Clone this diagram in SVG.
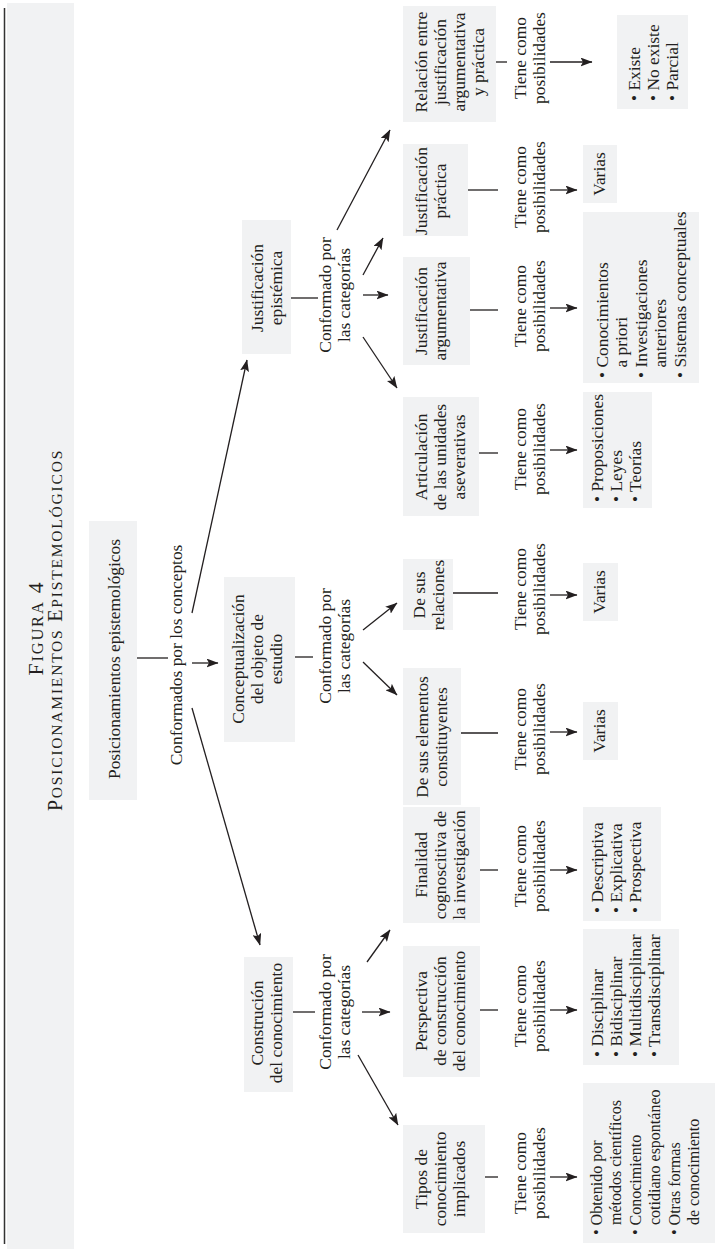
<svg xmlns="http://www.w3.org/2000/svg" width="728" height="1252" viewBox="0 0 728 1252">
<defs>
<style>
.box{fill:#f1f2f3}
.t{font-family:"Liberation Serif","Times New Roman",serif;font-size:17.4px;fill:#231f20}
.s{font-size:16px}
.m{text-anchor:middle}
.ln{stroke:#231f20;stroke-width:1.3;fill:none}
.ar{stroke:#231f20;stroke-width:1.3;fill:none;marker-end:url(#ah)}
.ttl{font-family:"Liberation Serif","Times New Roman",serif;fill:#231f20;text-anchor:middle;letter-spacing:1.8px}
</style>
<marker id="ah" viewBox="0 0 12 9" refX="11.5" refY="4.5" markerWidth="12" markerHeight="9" markerUnits="userSpaceOnUse" orient="auto"><path d="M0,0 L12,4.5 L0,9 L2.5,4.5 z" fill="#231f20"/></marker>
</defs>
<rect x="0" y="0" width="728" height="1252" fill="#ffffff"/>
<g id="title">
<rect x="7" y="3" width="67" height="1246" class="box"/>
<line x1="4.5" y1="8" x2="4.5" y2="1244" stroke="#333" stroke-width="1.5"/>
<text class="ttl" transform="translate(43,628) rotate(-90)"><tspan font-size="21.5">F</tspan><tspan font-size="16.5">IGURA</tspan><tspan font-size="21.5"> 4</tspan></text>
<text class="ttl" transform="translate(62,630) rotate(-90)"><tspan font-size="20">P</tspan><tspan font-size="15.5">OSICIONAMIENTOS</tspan><tspan font-size="20"> E</tspan><tspan font-size="15.5">PISTEMOLÓGICOS</tspan></text>
</g>
<g id="connectors">
<line class="ln" x1="137" y1="658" x2="168" y2="658"/>
<line class="ar" x1="192" y1="663" x2="218" y2="663"/>
<line class="ar" x1="192" y1="613" x2="247" y2="360"/>
<line class="ar" x1="192" y1="708" x2="260" y2="945"/>
<line class="ln" x1="291" y1="298" x2="318" y2="298"/>
<line class="ln" x1="295" y1="657" x2="313" y2="657"/>
<line class="ln" x1="293" y1="1012" x2="315" y2="1012"/>
<line class="ar" x1="337" y1="230" x2="390" y2="130"/>
<line class="ar" x1="363" y1="275" x2="383" y2="238"/>
<line class="ar" x1="363" y1="295" x2="388" y2="295"/>
<line class="ar" x1="363" y1="337" x2="397" y2="388"/>
<line class="ar" x1="363" y1="630" x2="397" y2="603"/>
<line class="ar" x1="363" y1="662" x2="397" y2="695"/>
<line class="ar" x1="367" y1="962" x2="390" y2="930"/>
<line class="ar" x1="362" y1="1012" x2="390" y2="1012"/>
<line class="ar" x1="358" y1="1055" x2="398" y2="1125"/>
<line class="ln" x1="496" y1="62" x2="507" y2="62"/>
<line class="ln" x1="468" y1="190" x2="498" y2="190"/>
<line class="ln" x1="470" y1="310" x2="498" y2="310"/>
<line class="ln" x1="479" y1="453" x2="498" y2="453"/>
<line class="ln" x1="453" y1="593" x2="498" y2="593"/>
<line class="ln" x1="461" y1="733" x2="498" y2="733"/>
<line class="ln" x1="480" y1="870" x2="498" y2="870"/>
<line class="ln" x1="480" y1="1010" x2="498" y2="1010"/>
<line class="ln" x1="485" y1="1177" x2="498" y2="1177"/>
<line class="ar" x1="550" y1="62" x2="592" y2="62"/>
<line class="ar" x1="550" y1="190" x2="577" y2="190"/>
<line class="ar" x1="550" y1="308" x2="577" y2="308"/>
<line class="ar" x1="550" y1="450" x2="577" y2="450"/>
<line class="ar" x1="550" y1="595" x2="577" y2="595"/>
<line class="ar" x1="550" y1="732" x2="577" y2="732"/>
<line class="ar" x1="550" y1="870" x2="577" y2="870"/>
<line class="ar" x1="550" y1="1010" x2="577" y2="1010"/>
<line class="ar" x1="550" y1="1177" x2="577" y2="1177"/>
</g>
<g id="labels">
<text class="t m" transform="translate(182,655) rotate(-90)">Conformados por los conceptos</text>
<text class="t m" transform="translate(331,295) rotate(-90)"><tspan x="0" y="0">Conformado por</tspan><tspan x="0" dy="19">las categorías</tspan></text>
<text class="t m" transform="translate(331,646) rotate(-90)"><tspan x="0" y="0">Conformado por</tspan><tspan x="0" dy="19">las categorías</tspan></text>
<text class="t m" transform="translate(331,1012) rotate(-90)"><tspan x="0" y="0">Conformado por</tspan><tspan x="0" dy="19">las categorías</tspan></text>
<text class="t m" transform="translate(526,58) rotate(-90)"><tspan x="0" y="0">Tiene como</tspan><tspan x="0" dy="19">posibilidades</tspan></text>
<text class="t m" transform="translate(526,187) rotate(-90)"><tspan x="0" y="0">Tiene como</tspan><tspan x="0" dy="19">posibilidades</tspan></text>
<text class="t m" transform="translate(526,306) rotate(-90)"><tspan x="0" y="0">Tiene como</tspan><tspan x="0" dy="19">posibilidades</tspan></text>
<text class="t m" transform="translate(526,449) rotate(-90)"><tspan x="0" y="0">Tiene como</tspan><tspan x="0" dy="19">posibilidades</tspan></text>
<text class="t m" transform="translate(526,589) rotate(-90)"><tspan x="0" y="0">Tiene como</tspan><tspan x="0" dy="19">posibilidades</tspan></text>
<text class="t m" transform="translate(526,729) rotate(-90)"><tspan x="0" y="0">Tiene como</tspan><tspan x="0" dy="19">posibilidades</tspan></text>
<text class="t m" transform="translate(526,866) rotate(-90)"><tspan x="0" y="0">Tiene como</tspan><tspan x="0" dy="19">posibilidades</tspan></text>
<text class="t m" transform="translate(526,1006) rotate(-90)"><tspan x="0" y="0">Tiene como</tspan><tspan x="0" dy="19">posibilidades</tspan></text>
<text class="t m" transform="translate(526,1173) rotate(-90)"><tspan x="0" y="0">Tiene como</tspan><tspan x="0" dy="19">posibilidades</tspan></text>
</g>
<g id="n-posicionamientos">
<rect class="box" x="89" y="521" width="48" height="279"/>
<text class="t m" transform="translate(120,659) rotate(-90)">Posicionamientos epistemológicos</text>
</g>
<g id="n-justificacion-epistemica">
<rect class="box" x="242" y="220" width="49" height="134"/>
<text class="t m" transform="translate(263,288) rotate(-90)"><tspan x="0" y="0">Justificación</tspan><tspan x="0" dy="19">epistémica</tspan></text>
</g>
<g id="n-conceptualizacion">
<rect class="box" x="224" y="577" width="71" height="165"/>
<text class="t m" transform="translate(244,659) rotate(-90)"><tspan x="0" y="0">Conceptualización</tspan><tspan x="0" dy="19">del objeto de</tspan><tspan x="0" dy="19">estudio</tspan></text>
</g>
<g id="n-construccion">
<rect class="box" x="244" y="957" width="49" height="135"/>
<text class="t m" transform="translate(263,1023) rotate(-90)"><tspan x="0" y="0">Construción</tspan><tspan x="0" dy="19">del conocimiento</tspan></text>
</g>
<g id="n-relacion">
<rect class="box" x="403" y="6" width="93" height="116"/>
<text class="t m" transform="translate(427,62) rotate(-90)"><tspan x="0" y="0">Relación entre</tspan><tspan x="0" dy="19">justificación</tspan><tspan x="0" dy="19">argumentativa</tspan><tspan x="0" dy="19">y práctica</tspan></text>
</g>
<g id="n-practica">
<rect class="box" x="403" y="144" width="65" height="92"/>
<text class="t m" transform="translate(427,191) rotate(-90)"><tspan x="0" y="0">Justificación</tspan><tspan x="0" dy="19">práctica</tspan></text>
</g>
<g id="n-argumentativa">
<rect class="box" x="403" y="257" width="67" height="108"/>
<text class="t m" transform="translate(427,311) rotate(-90)"><tspan x="0" y="0">Justificación</tspan><tspan x="0" dy="19">argumentativa</tspan></text>
</g>
<g id="n-articulacion">
<rect class="box" x="403" y="397" width="76" height="119"/>
<text class="t m" transform="translate(427,457) rotate(-90)"><tspan x="0" y="0">Articulación</tspan><tspan x="0" dy="19">de las unidades</tspan><tspan x="0" dy="19">aseverativas</tspan></text>
</g>
<g id="n-relaciones">
<rect class="box" x="403" y="559" width="50" height="71"/>
<text class="t m" transform="translate(425,595) rotate(-90)"><tspan x="0" y="0">De sus</tspan><tspan x="0" dy="19">relaciones</tspan></text>
</g>
<g id="n-elementos">
<rect class="box" x="403" y="668" width="58" height="137"/>
<text class="t m" transform="translate(428,737) rotate(-90)"><tspan x="0" y="0">De sus elementos</tspan><tspan x="0" dy="19">constituyentes</tspan></text>
</g>
<g id="n-finalidad">
<rect class="box" x="403" y="807" width="77" height="116"/>
<text class="t m" transform="translate(427,865) rotate(-90)"><tspan x="0" y="0">Finalidad</tspan><tspan x="0" dy="19">cognoscitiva de</tspan><tspan x="0" dy="19">la investigación</tspan></text>
</g>
<g id="n-perspectiva">
<rect class="box" x="403" y="946" width="77" height="131"/>
<text class="t m" transform="translate(427,1011) rotate(-90)"><tspan x="0" y="0">Perspectiva</tspan><tspan x="0" dy="19">de construcción</tspan><tspan x="0" dy="19">del conocimiento</tspan></text>
</g>
<g id="n-tipos">
<rect class="box" x="403" y="1125" width="82" height="108"/>
<text class="t m" transform="translate(427,1179) rotate(-90)"><tspan x="0" y="0">Tipos de</tspan><tspan x="0" dy="19">conocimiento</tspan><tspan x="0" dy="19">implicados</tspan></text>
</g>
<g id="p-relacion">
<rect class="box" x="617" y="15" width="71" height="94"/>
<text class="t" transform="translate(640,101) rotate(-90)"><tspan x="0" y="0">• Existe</tspan><tspan x="0" dy="19">• No existe</tspan><tspan x="0" dy="19">• Parcial</tspan></text>
</g>
<g id="p-practica">
<rect class="box" x="583" y="145" width="34" height="58"/>
<text class="t m" transform="translate(605,174) rotate(-90)">Varias</text>
</g>
<g id="p-argumentativa">
<rect class="box" x="583" y="212" width="116" height="171"/>
<text class="t" transform="translate(608,378) rotate(-90)"><tspan x="0" y="0">• Conocimientos</tspan><tspan x="10.4" dy="19.4">a priori</tspan><tspan x="0" dy="19.4">• Investigaciones</tspan><tspan x="10.4" dy="19.4">anteriores</tspan><tspan x="0" dy="19.4">• Sistemas conceptuales</tspan></text>
</g>
<g id="p-articulacion">
<rect class="box" x="583" y="392" width="69" height="116"/>
<text class="t" transform="translate(603,502) rotate(-90)"><tspan x="0" y="0">• Proposiciones</tspan><tspan x="0" dy="19">• Leyes</tspan><tspan x="0" dy="19">• Teorías</tspan></text>
</g>
<g id="p-relaciones">
<rect class="box" x="583" y="563" width="35" height="58"/>
<text class="t m" transform="translate(605,592) rotate(-90)">Varias</text>
</g>
<g id="p-elementos">
<rect class="box" x="583" y="702" width="35" height="58"/>
<text class="t m" transform="translate(605,731) rotate(-90)">Varias</text>
</g>
<g id="p-finalidad">
<rect class="box" x="583" y="807" width="78" height="114"/>
<text class="t" transform="translate(603,913) rotate(-90)"><tspan x="0" y="0">• Descriptiva</tspan><tspan x="0" dy="19">• Explicativa</tspan><tspan x="0" dy="19">• Prospectiva</tspan></text>
</g>
<g id="p-perspectiva">
<rect class="box" x="583" y="929" width="96" height="136"/>
<text class="t" transform="translate(603,1057) rotate(-90)"><tspan x="0" y="0">• Disciplinar</tspan><tspan x="0" dy="19">• Bidisciplinar</tspan><tspan x="0" dy="19">• Multidisciplinar</tspan><tspan x="0" dy="19">• Transdisciplinar</tspan></text>
</g>
<g id="p-tipos">
<rect class="box" x="583" y="1083" width="132" height="160"/>
<text class="t s" transform="translate(602,1235) rotate(-90)"><tspan x="0" y="0">• Obtenido por</tspan><tspan x="10" dy="19.4">métodos científicos</tspan><tspan x="0" dy="19.4">• Conocimiento</tspan><tspan x="10" dy="19.4">cotidiano espontáneo</tspan><tspan x="0" dy="19.4">• Otras formas</tspan><tspan x="10" dy="19.4">de conocimiento</tspan></text>
</g>
</svg>
